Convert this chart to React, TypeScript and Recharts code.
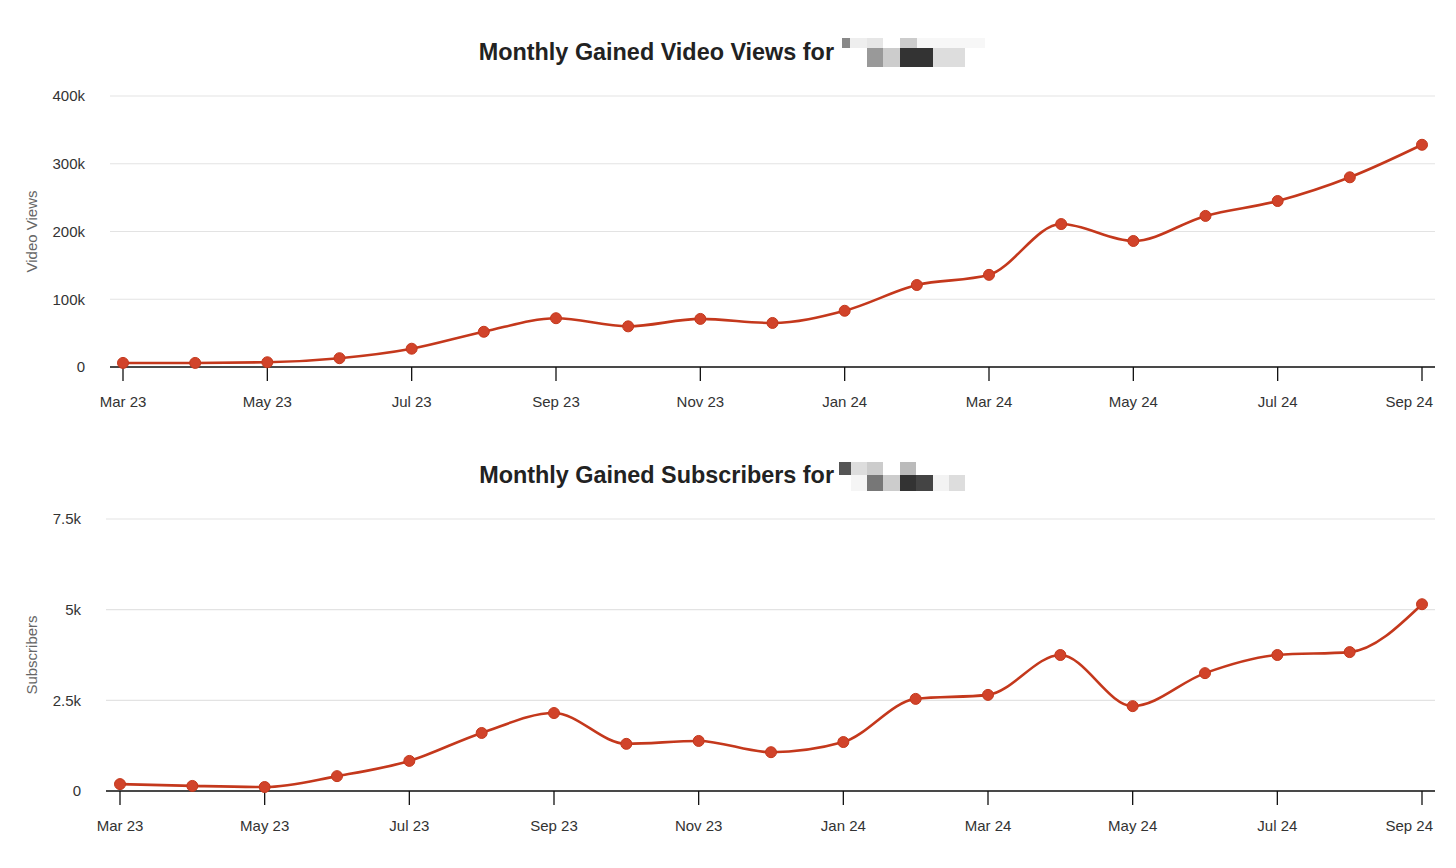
import { LineChart, Line, XAxis, YAxis, CartesianGrid } from 'recharts';

const MONTHS = [
  'Mar 23', 'Apr 23', 'May 23', 'Jun 23', 'Jul 23', 'Aug 23', 'Sep 23', 'Oct 23', 'Nov 23', 'Dec 23',
  'Jan 24', 'Feb 24', 'Mar 24', 'Apr 24', 'May 24', 'Jun 24', 'Jul 24', 'Aug 24', 'Sep 24',
];

const VIEWS = [
  6000, 6000, 7000, 13000, 27000, 52000, 72000, 60000, 71000, 65000,
  83000, 121000, 136000, 211000, 186000, 223000, 245000, 280000, 328000,
];

const SUBSCRIBERS = [
  190, 140, 110, 410, 830, 1600, 2150, 1300, 1380, 1070,
  1350, 2540, 2650, 3750, 2340, 3250, 3750, 3830, 5150,
];

const VIEW_TICKS = [0, 100000, 200000, 300000, 400000];
const SUB_TICKS = [0, 2500, 5000, 7500];

// pixelated name next to the titles
const MOSAIC_1 = [
  [0, 0, 8, 10, '#888'], [8, 0, 17, 10, '#eee'], [25, 0, 16, 10, '#e6e6e6'], [58, 0, 17, 10, '#ccc'],
  [75, 0, 68, 10, '#f7f7f7'],
  [25, 10, 16, 19, '#999'], [41, 10, 17, 19, '#ccc'], [58, 10, 33, 19, '#333'], [91, 10, 32, 19, '#ddd'],
];
const MOSAIC_2 = [
  [0, 0, 12, 13, '#555'], [12, 0, 16, 13, '#ddd'], [28, 0, 16, 13, '#ccc'], [61, 0, 16, 13, '#bbb'],
  [12, 13, 16, 16, '#f5f5f5'], [28, 13, 16, 16, '#777'], [44, 13, 17, 16, '#ccc'], [61, 13, 16, 16, '#333'],
  [77, 13, 17, 16, '#444'], [94, 13, 16, 16, '#f3f3f3'], [110, 13, 16, 16, '#ddd'],
];

const FONT = '"Liberation Sans", Arial, Helvetica, sans-serif';
const LINE = '#c4381c';
const DOT = '#d1432a';

const viewsData = MONTHS.map((m, i) => ({ month: m, value: VIEWS[i] }));
const subsData = MONTHS.map((m, i) => ({ month: m, value: SUBSCRIBERS[i] }));

const fmtK = (v: number) => (v === 0 ? '0' : `${v / 1000}k`);

function AxisTitle({ viewBox, text }: any) {
  const cx = 31;
  const cy = viewBox.y + viewBox.height / 2;
  return (
    <text x={cx} y={cy} transform={`rotate(-90 ${cx} ${cy})`} textAnchor="middle"
      dominantBaseline="central" fill="#666" fontSize={15} fontFamily={FONT}>
      {text}
    </text>
  );
}

// last label is pulled inside the plot, like the original
function MonthTick({ x, y, payload }: any) {
  const last = payload.value === MONTHS[MONTHS.length - 1];
  return (
    <text x={last ? x + 11 : x} y={y} dy="0.71em" textAnchor={last ? 'end' : 'middle'}
      fill="#333" fontSize={15} fontFamily={FONT}>
      {payload.value}
    </text>
  );
}

function Title({ text, top, mosaic, mx, my }: any) {
  return (
    <>
      <div style={{ position: 'absolute', left: 0, width: 834, top, textAlign: 'right', whiteSpace: 'nowrap',
        fontFamily: FONT, fontWeight: 'bold', fontSize: 23.4, color: '#222', lineHeight: '30px' }}>
        {text}
      </div>
      {mosaic.map((c: any, i: number) => (
        <div key={i} style={{ position: 'absolute', left: mx + c[0], top: my + c[1], width: c[2], height: c[3], background: c[4] }} />
      ))}
    </>
  );
}

function Chart({ data, ticks, max, label, plotLeft, padL, top, height, plotTop, plotBottom }: any) {
  return (
    <div style={{ position: 'absolute', left: 0, top }}>
      <LineChart width={1456} height={height} data={data}
        margin={{ top: plotTop, right: 21, left: 0, bottom: height - plotBottom - 40 }}>
        <CartesianGrid vertical={false} stroke="#e3e3e3" strokeWidth={1.2} />
        <XAxis dataKey="month" interval={1} tickSize={14} tickMargin={15} height={40}
          padding={{ left: padL, right: 13 }} axisLine={{ stroke: '#111', strokeWidth: 1.3 }}
          tickLine={{ stroke: '#111', strokeWidth: 1.3 }}
          tick={<MonthTick />} />
        <YAxis width={plotLeft} domain={[0, max]} ticks={ticks} tickFormatter={fmtK}
          axisLine={false} tickLine={false} tickMargin={19}
          tick={{ fill: '#333', fontSize: 15, fontFamily: FONT }}
          label={{ content: (p: any) => <AxisTitle viewBox={p.viewBox} text={label} /> }} />
        <Line type="monotone" dataKey="value" stroke={LINE} strokeWidth={2.6} isAnimationActive={false}
          dot={{ r: 5.5, fill: DOT, stroke: LINE, strokeWidth: 1 }} />
      </LineChart>
    </div>
  );
}

export default function App() {
  return (
    <div style={{ position: 'absolute', left: 0, top: 0, width: 1456, height: 868, background: '#fff', overflow: 'hidden' }}>
      <Title text="Monthly Gained Video Views for" top={37} mosaic={MOSAIC_1} mx={842} my={38} />
      <Chart data={viewsData} ticks={VIEW_TICKS} max={400000} label="Video Views" plotLeft={110} padL={13}
        top={0} height={430} plotTop={96} plotBottom={367} />
      <Title text="Monthly Gained Subscribers for" top={460} mosaic={MOSAIC_2} mx={839} my={462} />
      <Chart data={subsData} ticks={SUB_TICKS} max={7500} label="Subscribers" plotLeft={106} padL={14}
        top={430} height={438} plotTop={89} plotBottom={361} />
    </div>
  );
}
